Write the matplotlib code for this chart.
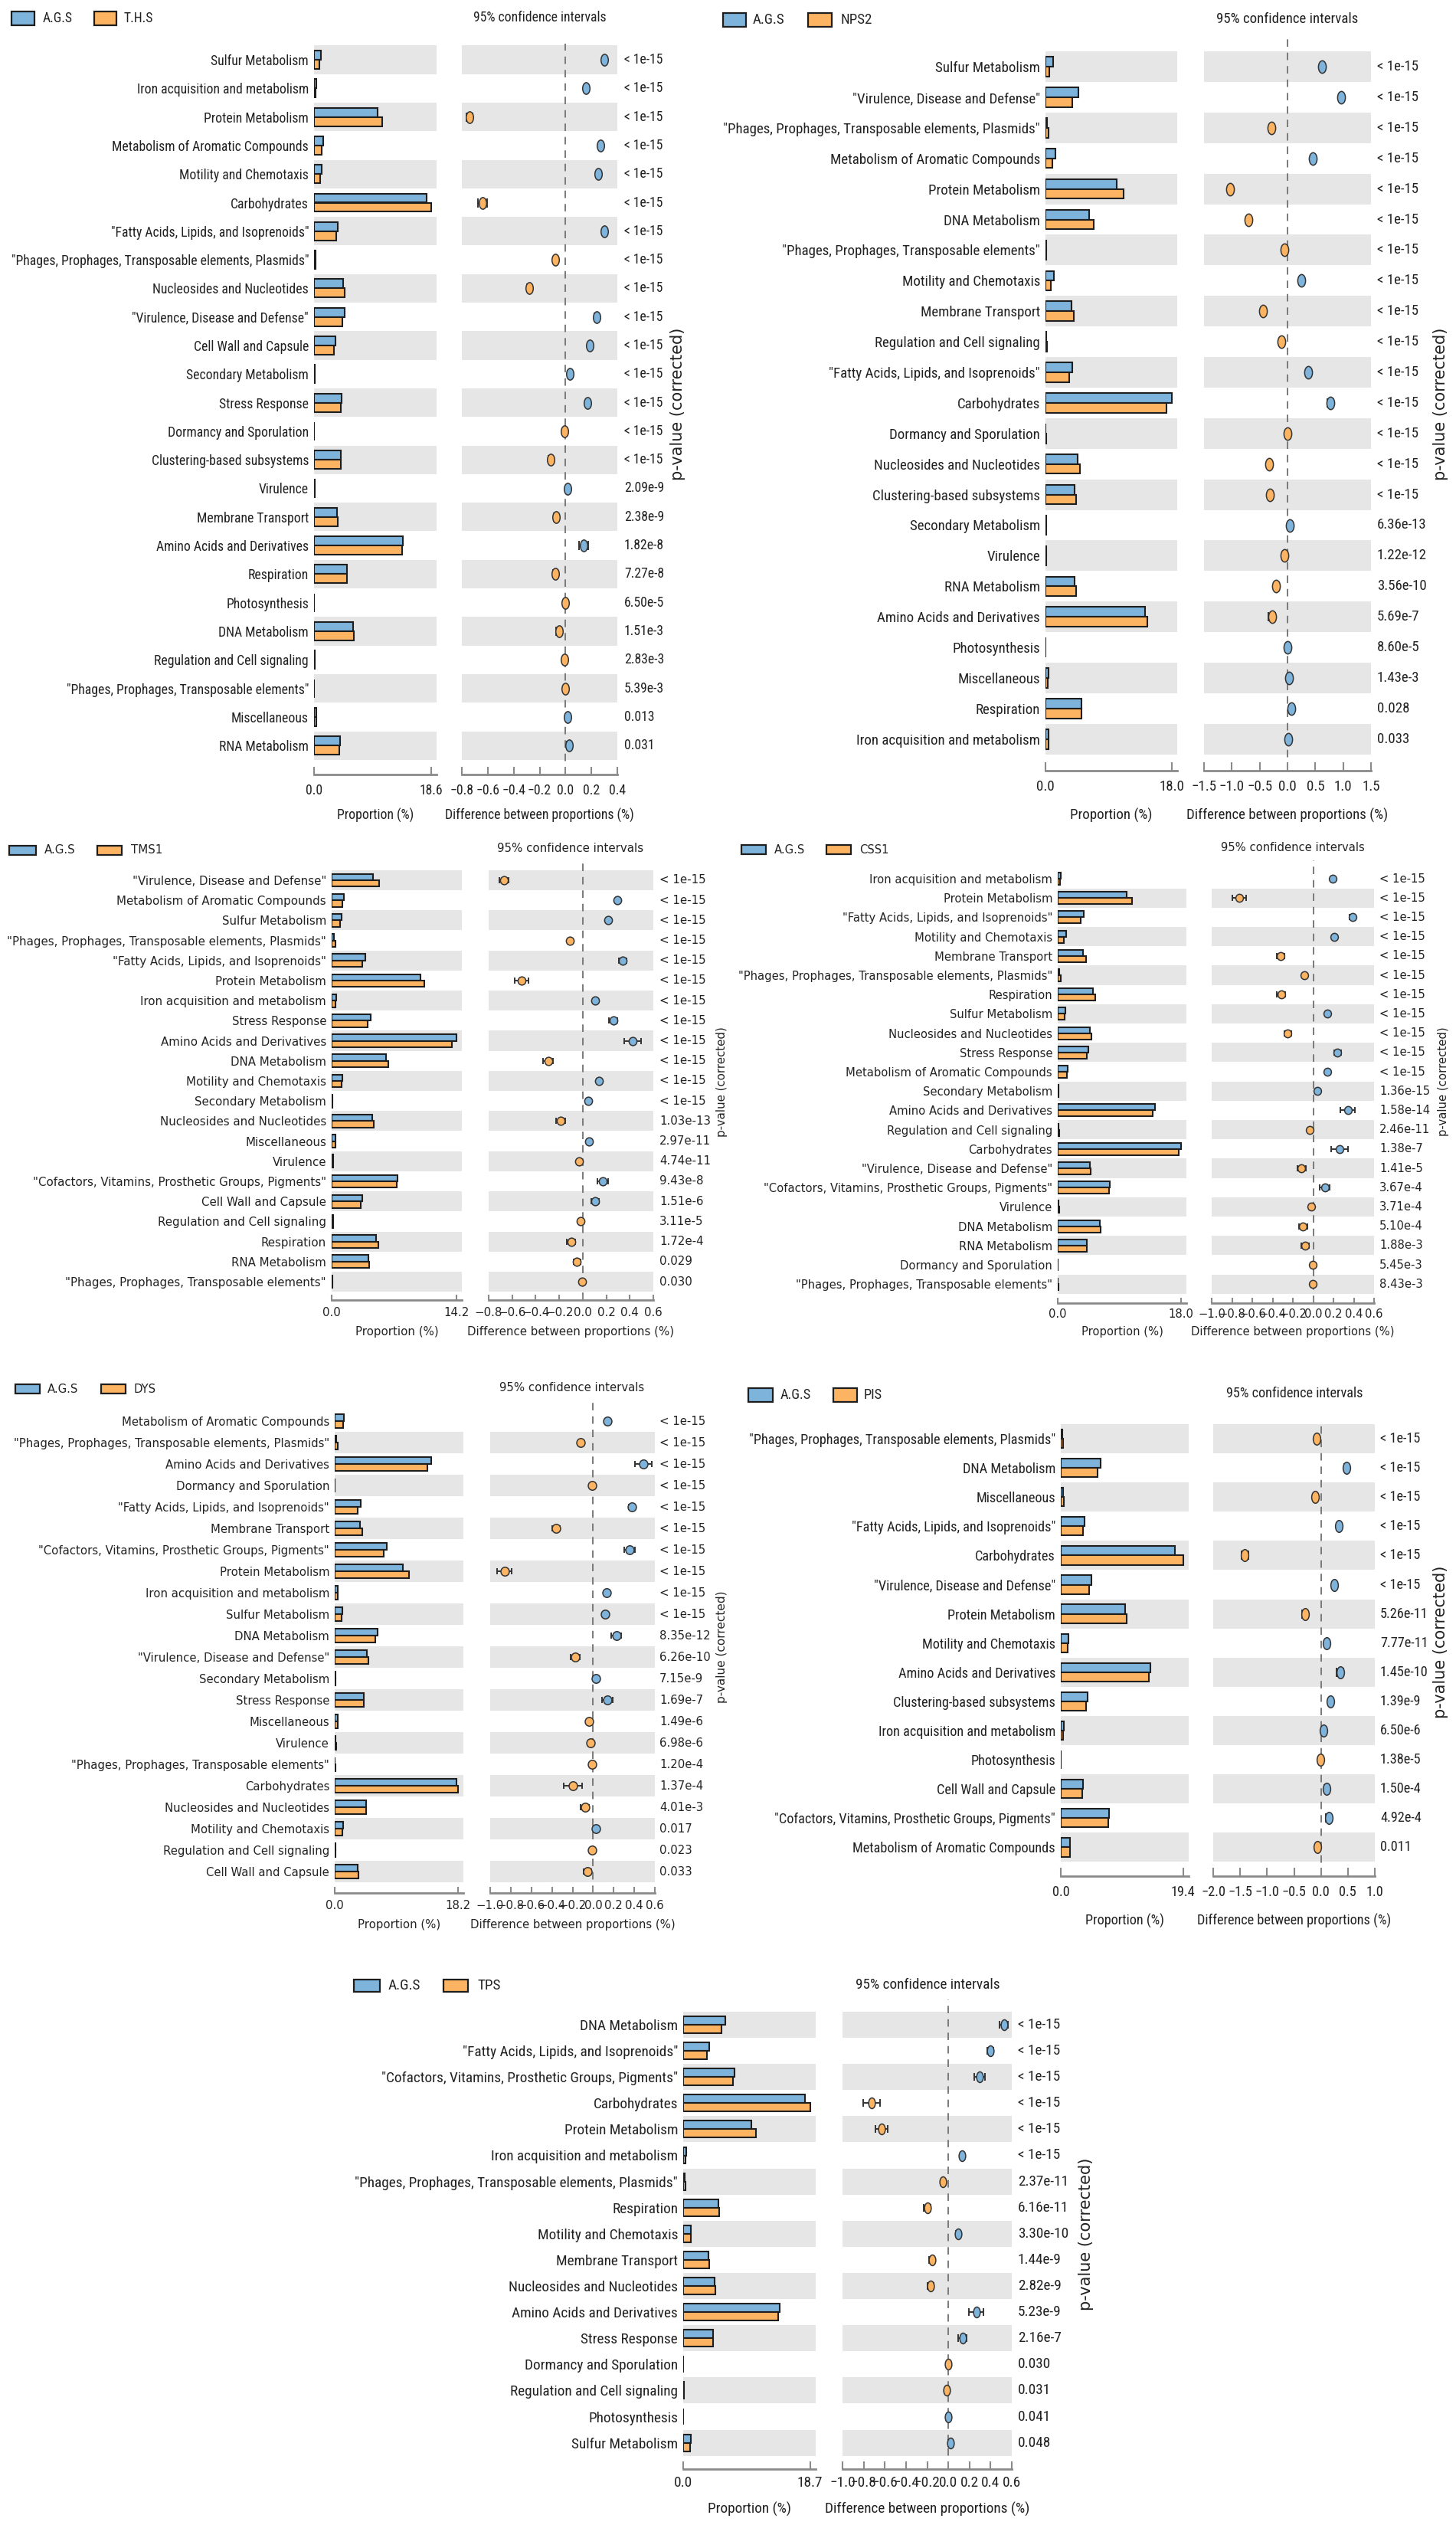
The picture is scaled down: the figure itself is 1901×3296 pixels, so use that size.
import numpy as np
import matplotlib
matplotlib.use('Agg')
import matplotlib.pyplot as plt
import matplotlib.transforms as mtransforms
from matplotlib import font_manager
from matplotlib.patches import Rectangle
from matplotlib.path import Path

W, H = 1901, 3296
BLUE = '#7eb3dc'
ORANGE = '#fdb462'
BAND = '#e6e6e6'
EDGE = '#1e1e1e'
TXT = '#222222'
AXC = '#8a8a8a'

# ---------------- data ----------------
THS_LABELS = ["Sulfur Metabolism", "Iron acquisition and metabolism", "Protein Metabolism",
              "Metabolism of Aromatic Compounds", "Motility and Chemotaxis", "Carbohydrates",
              '"Fatty Acids, Lipids, and Isoprenoids"', '"Phages, Prophages, Transposable elements, Plasmids"',
              "Nucleosides and Nucleotides", '"Virulence, Disease and Defense"', "Cell Wall and Capsule",
              "Secondary Metabolism", "Stress Response", "Dormancy and Sporulation",
              "Clustering-based subsystems", "Virulence", "Membrane Transport", "Amino Acids and Derivatives",
              "Respiration", "Photosynthesis", "DNA Metabolism", "Regulation and Cell signaling",
              '"Phages, Prophages, Transposable elements"', "Miscellaneous", "RNA Metabolism"]
THS_AGS = [1.1, 0.4, 10.1, 1.5, 1.25, 17.9, 3.8, 0.2, 4.6, 4.8, 3.4, 0.1, 4.4, 0.05, 4.2, 0.15, 3.7,
           14.1, 5.2, 0.03, 6.25, 0.15, 0.05, 0.4, 4.1]
THS_GRP = [0.8, 0.3, 10.8, 1.2, 1.0, 18.6, 3.5, 0.25, 4.85, 4.5, 3.2, 0.08, 4.2, 0.05, 4.3, 0.14, 3.8,
           13.95, 5.25, 0.03, 6.3, 0.15, 0.05, 0.38, 4.05]
THS_DIFF = [0.30, 0.16, -0.74, 0.27, 0.25, -0.64, 0.30, -0.08, -0.28, 0.24, 0.19, 0.035, 0.17, -0.005,
            -0.115, 0.015, -0.075, 0.14, -0.08, -0.003, -0.05, -0.007, -0.004, 0.015, 0.03]
THS_CI = [0.012, 0.008, 0.025, 0.01, 0.01, 0.035, 0.015, 0.005, 0.015, 0.015, 0.015, 0.005, 0.015, 0.003,
          0.015, 0.004, 0.015, 0.035, 0.018, 0.002, 0.02, 0.004, 0.003, 0.005, 0.018]
THS_P = ["< 1e-15", "< 1e-15", "< 1e-15", "< 1e-15", "< 1e-15", "< 1e-15", "< 1e-15", "< 1e-15",
         "< 1e-15", "< 1e-15", "< 1e-15", "< 1e-15", "< 1e-15", "< 1e-15", "< 1e-15", "2.09e-9",
         "2.38e-9", "1.82e-8", "7.27e-8", "6.50e-5", "1.51e-3", "2.83e-3", "5.39e-3", "0.013", "0.031"]

NPS_LABELS = ["Sulfur Metabolism", '"Virulence, Disease and Defense"',
              '"Phages, Prophages, Transposable elements, Plasmids"', "Metabolism of Aromatic Compounds",
              "Protein Metabolism", "DNA Metabolism", '"Phages, Prophages, Transposable elements"',
              "Motility and Chemotaxis", "Membrane Transport", "Regulation and Cell signaling",
              '"Fatty Acids, Lipids, and Isoprenoids"', "Carbohydrates", "Dormancy and Sporulation",
              "Nucleosides and Nucleotides", "Clustering-based subsystems", "Secondary Metabolism",
              "Virulence", "RNA Metabolism", "Amino Acids and Derivatives", "Photosynthesis",
              "Miscellaneous", "Respiration", "Iron acquisition and metabolism"]
NPS_AGS = [1.07, 4.75, 0.25, 1.4, 10.2, 6.2, 0.1, 1.15, 3.75, 0.15, 3.8, 18.0, 0.05, 4.6, 4.15, 0.1,
           0.1, 4.15, 14.25, 0.03, 0.4, 5.15, 0.45]
NPS_GRP = [0.5, 3.8, 0.45, 0.95, 11.2, 6.9, 0.15, 0.8, 4.1, 0.2, 3.4, 17.3, 0.07, 4.9, 4.4, 0.08,
           0.12, 4.35, 14.5, 0.03, 0.35, 5.1, 0.4]
NPS_DIFF = [0.62, 0.97, -0.29, 0.46, -1.03, -0.70, -0.05, 0.25, -0.44, -0.11, 0.375, 0.77, -0.005,
            -0.33, -0.31, 0.04, -0.05, -0.2, -0.28, 0.005, 0.03, 0.07, 0.02]
NPS_CI = [0.02, 0.025, 0.015, 0.02, 0.04, 0.03, 0.008, 0.015, 0.025, 0.01, 0.025, 0.06, 0.005, 0.025,
          0.025, 0.008, 0.01, 0.025, 0.06, 0.004, 0.01, 0.03, 0.01]
NPS_P = ["< 1e-15", "< 1e-15", "< 1e-15", "< 1e-15", "< 1e-15", "< 1e-15", "< 1e-15", "< 1e-15",
         "< 1e-15", "< 1e-15", "< 1e-15", "< 1e-15", "< 1e-15", "< 1e-15", "< 1e-15", "6.36e-13",
         "1.22e-12", "3.56e-10", "5.69e-7", "8.60e-5", "1.43e-3", "0.028", "0.033"]

TMS_LABELS = ['"Virulence, Disease and Defense"', "Metabolism of Aromatic Compounds", "Sulfur Metabolism",
              '"Phages, Prophages, Transposable elements, Plasmids"', '"Fatty Acids, Lipids, and Isoprenoids"',
              "Protein Metabolism", "Iron acquisition and metabolism", "Stress Response",
              "Amino Acids and Derivatives", "DNA Metabolism", "Motility and Chemotaxis",
              "Secondary Metabolism", "Nucleosides and Nucleotides", "Miscellaneous", "Virulence",
              '"Cofactors, Vitamins, Prosthetic Groups, Pigments"', "Cell Wall and Capsule",
              "Regulation and Cell signaling", "Respiration", "RNA Metabolism",
              '"Phages, Prophages, Transposable elements"']
TMS_AGS = [4.75, 1.43, 1.15, 0.25, 3.85, 10.1, 0.5, 4.45, 14.2, 6.2, 1.2, 0.12, 4.6, 0.45, 0.15, 7.55,
           3.5, 0.15, 5.1, 4.15, 0.05]
TMS_GRP = [5.45, 1.2, 0.95, 0.45, 3.5, 10.55, 0.45, 4.1, 13.7, 6.5, 1.1, 0.1, 4.8, 0.4, 0.17, 7.45,
           3.3, 0.17, 5.3, 4.3, 0.06]
TMS_DIFF = [-0.67, 0.295, 0.215, -0.11, 0.34, -0.52, 0.105, 0.26, 0.425, -0.295, 0.135, 0.045, -0.19,
            0.055, -0.03, 0.17, 0.105, -0.02, -0.10, -0.05, -0.005]
TMS_CI = [0.04, 0.015, 0.015, 0.01, 0.03, 0.06, 0.01, 0.035, 0.07, 0.04, 0.02, 0.01, 0.04, 0.01, 0.01,
          0.045, 0.03, 0.008, 0.035, 0.03, 0.005]
TMS_P = ["< 1e-15", "< 1e-15", "< 1e-15", "< 1e-15", "< 1e-15", "< 1e-15", "< 1e-15", "< 1e-15",
         "< 1e-15", "< 1e-15", "< 1e-15", "< 1e-15", "1.03e-13", "2.97e-11", "4.74e-11", "9.43e-8",
         "1.51e-6", "3.11e-5", "1.72e-4", "0.029", "0.030"]

CSS_LABELS = ["Iron acquisition and metabolism", "Protein Metabolism", '"Fatty Acids, Lipids, and Isoprenoids"',
              "Motility and Chemotaxis", "Membrane Transport",
              '"Phages, Prophages, Transposable elements, Plasmids"', "Respiration", "Sulfur Metabolism",
              "Nucleosides and Nucleotides", "Stress Response", "Metabolism of Aromatic Compounds",
              "Secondary Metabolism", "Amino Acids and Derivatives", "Regulation and Cell signaling",
              "Carbohydrates", '"Virulence, Disease and Defense"',
              '"Cofactors, Vitamins, Prosthetic Groups, Pigments"', "Virulence", "DNA Metabolism",
              "RNA Metabolism", "Dormancy and Sporulation", '"Phages, Prophages, Transposable elements"']
CSS_AGS = [0.5, 10.1, 3.85, 1.23, 3.75, 0.25, 5.1, 1.15, 4.65, 4.45, 1.43, 0.12, 14.25, 0.15, 18.0,
           4.7, 7.65, 0.15, 6.15, 4.2, 0.04, 0.05]
CSS_GRP = [0.35, 10.9, 3.4, 0.95, 4.1, 0.4, 5.45, 1.0, 4.9, 4.25, 1.3, 0.08, 13.9, 0.17, 17.7, 4.85,
           7.5, 0.17, 6.3, 4.25, 0.05, 0.06]
CSS_DIFF = [0.195, -0.73, 0.385, 0.205, -0.32, -0.09, -0.315, 0.14, -0.25, 0.24, 0.137, 0.04, 0.34,
            -0.035, 0.26, -0.115, 0.115, -0.018, -0.10, -0.08, -0.003, -0.005]
CSS_CI = [0.015, 0.07, 0.03, 0.015, 0.04, 0.01, 0.04, 0.015, 0.035, 0.035, 0.015, 0.01, 0.075, 0.01,
          0.08, 0.04, 0.05, 0.01, 0.04, 0.04, 0.004, 0.004]
CSS_P = ["< 1e-15", "< 1e-15", "< 1e-15", "< 1e-15", "< 1e-15", "< 1e-15", "< 1e-15", "< 1e-15",
         "< 1e-15", "< 1e-15", "< 1e-15", "1.36e-15", "1.58e-14", "2.46e-11", "1.38e-7", "1.41e-5",
         "3.67e-4", "3.71e-4", "5.10e-4", "1.88e-3", "5.45e-3", "8.43e-3"]

DYS_LABELS = ["Metabolism of Aromatic Compounds", '"Phages, Prophages, Transposable elements, Plasmids"',
              "Amino Acids and Derivatives", "Dormancy and Sporulation", '"Fatty Acids, Lipids, and Isoprenoids"',
              "Membrane Transport", '"Cofactors, Vitamins, Prosthetic Groups, Pigments"', "Protein Metabolism",
              "Iron acquisition and metabolism", "Sulfur Metabolism", "DNA Metabolism",
              '"Virulence, Disease and Defense"', "Secondary Metabolism", "Stress Response", "Miscellaneous",
              "Virulence", '"Phages, Prophages, Transposable elements"', "Carbohydrates",
              "Nucleosides and Nucleotides", "Motility and Chemotaxis", "Regulation and Cell signaling",
              "Cell Wall and Capsule"]
DYS_AGS = [1.38, 0.25, 14.3, 0.04, 3.8, 3.7, 7.65, 10.1, 0.5, 1.1, 6.3, 4.75, 0.12, 4.35, 0.4, 0.15,
           0.05, 17.95, 4.6, 1.2, 0.15, 3.45]
DYS_GRP = [1.25, 0.45, 13.7, 0.05, 3.45, 4.05, 7.3, 11.0, 0.4, 1.0, 6.0, 4.95, 0.1, 4.3, 0.45, 0.17,
           0.06, 18.2, 4.65, 1.15, 0.16, 3.5]
DYS_DIFF = [0.135, -0.12, 0.49, -0.01, 0.375, -0.36, 0.355, -0.86, 0.13, 0.113, 0.225, -0.175, 0.03,
            0.14, -0.04, -0.027, -0.01, -0.195, -0.08, 0.03, -0.013, -0.055]
DYS_CI = [0.02, 0.01, 0.08, 0.004, 0.03, 0.04, 0.05, 0.07, 0.015, 0.02, 0.05, 0.045, 0.01, 0.05, 0.01,
          0.01, 0.005, 0.09, 0.04, 0.02, 0.008, 0.035]
DYS_P = ["< 1e-15", "< 1e-15", "< 1e-15", "< 1e-15", "< 1e-15", "< 1e-15", "< 1e-15", "< 1e-15",
         "< 1e-15", "< 1e-15", "8.35e-12", "6.26e-10", "7.15e-9", "1.69e-7", "1.49e-6", "6.98e-6",
         "1.20e-4", "1.37e-4", "4.01e-3", "0.017", "0.023", "0.033"]

PIS_LABELS = ['"Phages, Prophages, Transposable elements, Plasmids"', "DNA Metabolism", "Miscellaneous",
              '"Fatty Acids, Lipids, and Isoprenoids"', "Carbohydrates", '"Virulence, Disease and Defense"',
              "Protein Metabolism", "Motility and Chemotaxis", "Amino Acids and Derivatives",
              "Clustering-based subsystems", "Iron acquisition and metabolism", "Photosynthesis",
              "Cell Wall and Capsule", '"Cofactors, Vitamins, Prosthetic Groups, Pigments"',
              "Metabolism of Aromatic Compounds"]
PIS_AGS = [0.2, 6.27, 0.35, 3.8, 18.05, 4.8, 10.2, 1.27, 14.25, 4.2, 0.5, 0.03, 3.5, 7.7, 1.45]
PIS_GRP = [0.35, 5.8, 0.45, 3.5, 19.4, 4.55, 10.45, 1.1, 13.95, 4.0, 0.4, 0.03, 3.45, 7.55, 1.5]
PIS_DIFF = [-0.085, 0.47, -0.11, 0.33, -1.41, 0.25, -0.30, 0.105, 0.355, 0.18, 0.045, -0.008, 0.10,
            0.14, -0.06]
PIS_CI = [0.015, 0.04, 0.015, 0.03, 0.06, 0.03, 0.05, 0.02, 0.06, 0.04, 0.015, 0.005, 0.04, 0.05, 0.02]
PIS_P = ["< 1e-15", "< 1e-15", "< 1e-15", "< 1e-15", "< 1e-15", "< 1e-15", "5.26e-11", "7.77e-11",
         "1.45e-10", "1.39e-9", "6.50e-6", "1.38e-5", "1.50e-4", "4.92e-4", "0.011"]

TPS_LABELS = ["DNA Metabolism", '"Fatty Acids, Lipids, and Isoprenoids"',
              '"Cofactors, Vitamins, Prosthetic Groups, Pigments"', "Carbohydrates", "Protein Metabolism",
              "Iron acquisition and metabolism", '"Phages, Prophages, Transposable elements, Plasmids"',
              "Respiration", "Motility and Chemotaxis", "Membrane Transport", "Nucleosides and Nucleotides",
              "Amino Acids and Derivatives", "Stress Response", "Dormancy and Sporulation",
              "Regulation and Cell signaling", "Photosynthesis", "Sulfur Metabolism"]
TPS_AGS = [6.2, 3.85, 7.55, 18.0, 10.1, 0.45, 0.25, 5.15, 1.15, 3.7, 4.6, 14.2, 4.4, 0.04, 0.15, 0.03, 1.1]
TPS_GRP = [5.65, 3.45, 7.35, 18.7, 10.7, 0.35, 0.35, 5.3, 1.1, 3.85, 4.75, 14.0, 4.35, 0.05, 0.16, 0.03, 1.05]
TPS_DIFF = [0.525, 0.395, 0.295, -0.725, -0.63, 0.13, -0.05, -0.2, 0.09, -0.155, -0.17, 0.265, 0.135,
            -0.002, -0.013, 0.002, 0.02]
TPS_CI = [0.04, 0.03, 0.05, 0.08, 0.06, 0.01, 0.01, 0.03, 0.015, 0.025, 0.03, 0.07, 0.04, 0.004, 0.006,
          0.003, 0.02]
TPS_P = ["< 1e-15", "< 1e-15", "< 1e-15", "< 1e-15", "< 1e-15", "< 1e-15", "2.37e-11", "6.16e-11",
         "3.30e-10", "1.44e-9", "2.82e-9", "5.23e-9", "2.16e-7", "0.030", "0.031", "0.041", "0.048"]

# ---------------- layout (pixels) ----------------
G_THS = dict(bar=(410, 570), dif=(603, 806), row0=78, step=37.3, top=57, spine=1011, tick=1033, lab=1064,
             px=815, plab=(885, 527), leg=(15, 45, 56, 123, 152, 162, 24), ci=(705, 23),
             ref=("Sulfur Metabolism", 127))
G_NPS = dict(bar=(1365, 1537), dif=(1572, 1790), row0=87, step=39.9, top=51, spine=1006, tick=1028, lab=1064,
             px=1798, plab=(1881, 527), leg=(944, 974, 983, 1055, 1086, 1097, 26), ci=(1681, 25),
             ref=("Sulfur Metabolism", 136))
G_TMS = dict(bar=(433, 603), dif=(638, 853), row0=1149, step=26.2, top=1123, spine=1697, tick=1714, lab=1739,
             px=861, plab=(942, 1412), leg=(12, 47, 58, 127, 159, 171, 1110), ci=(745, 1108),
             ref=("Sulfur Metabolism", 136))
G_CSS = dict(bar=(1381, 1549), dif=(1582, 1794), row0=1147, step=25.2, top=1123, spine=1701, tick=1716, lab=1739,
             px=1801, plab=(1884, 1412), leg=(968, 1000, 1011, 1079, 1111, 1122, 1109), ci=(1688, 1107),
             ref=("Sulfur Metabolism", 134))
G_DYS = dict(bar=(437, 605), dif=(640, 855), row0=1855, step=28.0, top=1827, spine=2471, tick=2488, lab=2513,
             px=861, plab=(942, 2150), leg=(20, 52, 62, 132, 164, 174, 1813), ci=(747, 1812),
             ref=("Sulfur Metabolism", 135))
G_PIS = dict(bar=(1385, 1552), dif=(1584, 1795), row0=1878, step=38.1, top=1855, spine=2449, tick=2471, lab=2507,
             px=1802, plab=(1881, 2143), leg=(977, 1009, 1019, 1088, 1119, 1128, 1821), ci=(1690, 1819),
             ref=("DNA Metabolism", 121))
G_TPS = dict(bar=(892, 1065), dif=(1100, 1321), row0=2643, step=34.1, top=2610, spine=3223, tick=3243, lab=3275,
             px=1329, plab=(1418, 2916), leg=(462, 496, 507, 579, 611, 623, 2592), ci=(1211, 2591),
             ref=("DNA Metabolism", 128))

FONT_NAMES = {f.name for f in font_manager.fontManager.ttflist}
NARROW_FAMILY = 'DejaVu Sans'
for cand in ['Liberation Sans Narrow', 'Roboto Condensed', 'Open Sans Condensed', 'Noto Sans Condensed',
             'DejaVu Sans Condensed']:
    if cand in FONT_NAMES:
        NARROW_FAMILY = cand
        break


def fit_size(fig, fam, text, target_px):
    r = fig.canvas.get_renderer()
    t = fig.text(0, 0, text, fontfamily=fam, fontsize=10)
    w = t.get_window_extent(r).width
    t.remove()
    return 10 * target_px / w


def fx(px):
    return px / W


def fy(py):
    return 1 - py / H


def draw_panel(fig, labels, ags, grp, diff, ci, pvals, name, pmax, dlim, dstep, g, narrow, plsize):
    n = len(labels)
    fam = [NARROW_FAMILY, 'DejaVu Sans'] if narrow else ['DejaVu Sans']
    size = fit_size(fig, fam, g['ref'][0], g['ref'][1])
    em = size * 100 / 72
    step = g['step']
    y = np.arange(n)
    ytop = (g['top'] - g['row0']) / step
    ybot = (g['spine'] - g['row0']) / step
    hgt = (g['spine'] - g['top']) / H
    b0, b1 = g['bar']
    d0, d1 = g['dif']
    axb = fig.add_axes([fx(b0), fy(g['spine']), (b1 - b0) / W, hgt])
    axd = fig.add_axes([fx(d0), fy(g['spine']), (d1 - d0) / W, hgt])

    tick_len = 0.28 * step / (100 / 72)
    tick_pad = max(1.0, (g['tick'] - g['spine'] - 0.55 * em) / (100 / 72))

    for ax in (axb, axd):
        ax.set_ylim(ybot, ytop)
        for i in range(n):
            if (n - 1 - i) % 2 == 0:
                ax.axhspan(i - 0.5, i + 0.5, color=BAND, lw=0, zorder=0)
        for s in ('left', 'top', 'right'):
            ax.spines[s].set_visible(False)
        ax.spines['bottom'].set_color(AXC)
        ax.spines['bottom'].set_linewidth(2)
        ax.tick_params(axis='x', direction='in', length=tick_len, width=1.5, color=AXC,
                       pad=tick_pad, labelsize=size, labelcolor=TXT)

    h = 0.32
    axb.barh(y - h / 2, ags, height=h, color=BLUE, edgecolor=EDGE, linewidth=1.5, zorder=2)
    axb.barh(y + h / 2, grp, height=h, color=ORANGE, edgecolor=EDGE, linewidth=1.5, zorder=2)
    axb.set_xlim(0, pmax * 1.045)
    axb.set_xticks([0, pmax])
    axb.set_xticklabels(['0.0', '%.1f' % pmax], fontfamily=fam)
    axb.set_yticks(y)
    axb.set_yticklabels(labels, fontfamily=fam, fontsize=size, color=TXT)
    axb.tick_params(axis='y', length=0, pad=5)

    ticks = np.round(np.arange(dlim[0], dlim[1] + dstep / 2, dstep), 2)
    tlabs = []
    for t in ticks:
        if abs(t) < 1e-9:
            t = 0.0
        tlabs.append(('%.1f' % t).replace('-', '\u2212'))
    axd.set_xlim(dlim)
    axd.set_xticks(ticks)
    axd.set_xticklabels(tlabs, fontfamily=fam)
    axd.set_yticks([])
    axd.axvline(0, color='#7a7a7a', ls=(0, (5, 4)), lw=1.4, zorder=1)

    asp = 1.6 if narrow else 1.05
    ell = Path.unit_circle().transformed(mtransforms.Affine2D().scale(1.0, asp))
    ms = 0.41 * step / (100 / 72)
    cs = 0.15 * step / (100 / 72)
    for i in range(n):
        c = BLUE if diff[i] > 0 else ORANGE
        axd.errorbar(diff[i], i, xerr=ci[i], fmt='none', ecolor='#333333', elinewidth=1.4,
                     capsize=cs, capthick=1.4, zorder=3)
        axd.plot(diff[i], i, marker=ell, ms=ms, mfc=c, mec='#333333', mew=1.1, ls='none', zorder=4)

    trans = mtransforms.blended_transform_factory(fig.transFigure, axd.transData)
    for i, t in enumerate(pvals):
        axd.text(fx(g['px']), i, t, transform=trans, ha='left', va='center',
                 fontfamily=fam, fontsize=size, color=TXT)

    fig.text(fx(g['plab'][0]), fy(g['plab'][1]), 'p-value (corrected)', rotation=90,
             ha='center', va='center', fontfamily='DejaVu Sans', fontsize=plsize, color=TXT)

    fig.text(fx((b0 + b1) / 2), fy(g['lab']), 'Proportion (%)', ha='center', va='center',
             fontfamily=fam, fontsize=size, color=TXT)
    fig.text(fx((d0 + d1) / 2), fy(g['lab']), 'Difference between proportions (%)', ha='center',
             va='center', fontfamily=fam, fontsize=size, color=TXT)
    fig.text(fx(g['ci'][0]), fy(g['ci'][1]), '95% confidence intervals', ha='center', va='center',
             fontfamily=fam, fontsize=size, color=TXT)

    l1a, l1b, t1, l2a, l2b, t2, ly = g['leg']
    bh = 0.46 * step
    for xa, xb, tx, col, txt in ((l1a, l1b, t1, BLUE, 'A.G.S'), (l2a, l2b, t2, ORANGE, name)):
        fig.add_artist(Rectangle((fx(xa), fy(ly + bh / 2)), (xb - xa) / W, bh / H,
                                 transform=fig.transFigure, facecolor=col, edgecolor=EDGE, linewidth=1.6))
        fig.text(fx(tx), fy(ly), txt, ha='left', va='center', fontfamily=fam, fontsize=size, color=TXT)


fig = plt.figure(figsize=(W / 100, H / 100), dpi=100)

draw_panel(fig, THS_LABELS, THS_AGS, THS_GRP, THS_DIFF, THS_CI, THS_P, 'T.H.S', 18.6, (-0.8, 0.4), 0.2,
           G_THS, True, 15)
draw_panel(fig, NPS_LABELS, NPS_AGS, NPS_GRP, NPS_DIFF, NPS_CI, NPS_P, 'NPS2', 18.0, (-1.5, 1.5), 0.5,
           G_NPS, True, 15)
draw_panel(fig, TMS_LABELS, TMS_AGS, TMS_GRP, TMS_DIFF, TMS_CI, TMS_P, 'TMS1', 14.2, (-0.8, 0.6), 0.2,
           G_TMS, False, 10.8)
draw_panel(fig, CSS_LABELS, CSS_AGS, CSS_GRP, CSS_DIFF, CSS_CI, CSS_P, 'CSS1', 18.0, (-1.0, 0.6), 0.2,
           G_CSS, False, 10.7)
draw_panel(fig, DYS_LABELS, DYS_AGS, DYS_GRP, DYS_DIFF, DYS_CI, DYS_P, 'DYS', 18.2, (-1.0, 0.6), 0.2,
           G_DYS, False, 11)
draw_panel(fig, PIS_LABELS, PIS_AGS, PIS_GRP, PIS_DIFF, PIS_CI, PIS_P, 'PIS', 19.4, (-2.0, 1.0), 0.5,
           G_PIS, True, 15)
draw_panel(fig, TPS_LABELS, TPS_AGS, TPS_GRP, TPS_DIFF, TPS_CI, TPS_P, 'TPS', 18.7, (-1.0, 0.6), 0.2,
           G_TPS, True, 15)

fig.savefig('out.png', dpi=100)
